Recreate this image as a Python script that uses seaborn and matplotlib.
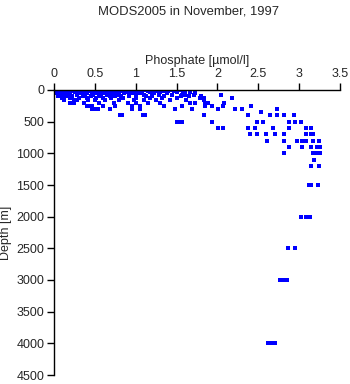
import matplotlib
matplotlib.use("Agg")
import matplotlib.pyplot as plt
import seaborn as sns
import pandas as pd

title = "MODS2005 in November, 1997"
x_label = "Phosphate [\u00b5mol/l]"
y_label = "Depth [m]"
x_ticks = [0, 0.5, 1, 1.5, 2, 2.5, 3, 3.5]
x_tick_labels = ["0", "0.5", "1", "1.5", "2", "2.5", "3", "3.5"]
y_ticks = [0, 500, 1000, 1500, 2000, 2500, 3000, 3500, 4000, 4500]

# phosphate values (umol/l) at each standard depth level (m)
p_0 = [0.02, 0.05, 0.08, 0.12, 0.15, 0.20, 0.25, 0.33, 0.36, 0.40, 0.45, 0.50, 0.53,
       0.58, 0.62, 0.68, 0.72, 0.78, 0.82, 0.85, 0.97, 1.00, 1.12, 1.20, 1.30, 1.45, 1.52, 1.55]
p_10 = [0.03, 0.07, 0.10, 0.18, 0.30, 0.35, 0.42, 0.48, 0.55, 0.60, 0.65, 0.70, 0.75,
        0.80, 0.88, 0.95, 1.05, 1.15, 1.35, 1.47]
p_20 = [0.02, 0.06, 0.14, 0.22, 0.34, 0.38, 0.44, 0.50, 0.56, 0.63, 0.70, 0.76, 0.84,
        0.98, 1.08, 1.25, 1.40, 1.60]
p_30 = [0.04, 0.09, 0.16, 0.26, 0.36, 0.46, 0.52, 0.60, 0.66, 0.74, 0.80, 0.90, 1.02,
        1.18, 1.30, 1.50, 1.66]
p_50 = [0.03, 0.08, 0.12, 0.20, 0.30, 0.40, 0.50, 0.55, 0.62, 0.70, 0.78, 0.86, 0.95,
        1.05, 1.22, 1.38, 1.58, 1.72]
p_75 = [0.06, 0.10, 0.18, 0.28, 0.38, 0.48, 0.58, 0.65, 0.72, 0.80, 0.92, 1.00, 1.10,
        1.28, 1.45, 1.57, 1.60, 1.71, 2.04]
p_100 = [0.05, 0.15, 0.22, 0.35, 0.45, 0.55, 0.68, 0.75, 0.82, 0.92, 1.12, 1.20, 1.35,
         1.55, 1.65, 1.80]
p_125 = [0.10, 0.20, 0.30, 0.40, 0.52, 0.60, 0.70, 0.85, 1.00, 1.18, 1.32, 1.50, 1.79,
         1.84, 2.18]
p_150 = [0.12, 0.25, 0.28, 0.42, 0.50, 0.62, 0.80, 0.98, 1.10, 1.25, 1.42, 1.62, 1.84]
p_200 = [0.20, 0.24, 0.37, 0.55, 0.73, 0.90, 1.00, 1.15, 1.30, 1.67, 1.72, 1.85, 1.89, 2.08]
p_250 = [0.40, 0.43, 0.46, 0.60, 0.75, 0.95, 1.05, 1.35, 1.57, 1.85, 1.93, 2.07, 2.41]
p_300 = [0.46, 0.50, 0.54, 0.69, 0.95, 1.05, 1.48, 1.69, 2.01, 2.22, 2.30, 2.73]
p_350 = [2.53]
p_400 = [0.81, 0.83, 1.09, 1.11, 1.83, 2.37, 2.64, 2.73, 2.81, 2.94]
p_500 = [1.50, 1.53, 1.57, 1.93, 2.49, 2.56, 2.87, 2.95, 3.02]
p_600 = [2.01, 2.07, 2.37, 2.46, 2.68, 2.88, 3.09, 3.14]
p_700 = [2.40, 2.49, 2.60, 2.71, 2.81, 3.09, 3.15, 3.17]
p_800 = [2.61, 2.81, 2.97, 3.03, 3.09, 3.17, 3.24]
p_900 = [2.87, 3.04, 3.15, 3.22, 3.26]
p_1000 = [2.81, 3.17, 3.22, 3.26]
p_1100 = [3.18]
p_1200 = [3.15, 3.24]
p_1500 = [3.12, 3.15, 3.23]
p_2000 = [3.02, 3.09, 3.13]
p_2500 = [2.86, 2.95]
p_3000 = [2.77, 2.80, 2.85]
p_4000 = [2.62, 2.66, 2.70]

levels = [0, 10, 20, 30, 50, 75, 100, 125, 150, 200, 250, 300, 350, 400, 500, 600,
          700, 800, 900, 1000, 1100, 1200, 1500, 2000, 2500, 3000, 4000]
values = [p_0, p_10, p_20, p_30, p_50, p_75, p_100, p_125, p_150, p_200, p_250, p_300,
          p_350, p_400, p_500, p_600, p_700, p_800, p_900, p_1000, p_1100, p_1200,
          p_1500, p_2000, p_2500, p_3000, p_4000]

rows = []
for d, vals in zip(levels, values):
    for v in vals:
        rows.append({"phosphate": v, "depth": d})
df = pd.DataFrame(rows)

sns.set_style("white")
plt.rcParams["font.family"] = ["Liberation Sans", "DejaVu Sans"]

fig = plt.figure(figsize=(3.5, 3.84), dpi=100)
ax = fig.add_axes([54 / 350, 1 - 375 / 384, (340 - 54) / 350, (375 - 90) / 384])

sns.scatterplot(data=df, x="phosphate", y="depth", ax=ax, marker="s", s=6,
                color="#0000ff", linewidth=0, legend=False)

ax.set_xlim(0, 3.5)
ax.set_ylim(4500, 0)
ax.xaxis.set_ticks_position("top")
ax.xaxis.set_label_position("top")
ax.set_xticks(x_ticks)
ax.set_xticklabels(x_tick_labels)
ax.set_yticks(y_ticks)
ax.set_yticklabels([str(t) for t in y_ticks])
ax.tick_params(axis="both", direction="out", length=5, width=1, color="black",
               labelsize=9, pad=2)
ax.tick_params(axis="x", top=True, bottom=False)
ax.tick_params(axis="y", left=True, right=False)
for side in ["right", "bottom"]:
    ax.spines[side].set_visible(False)
for side in ["left", "top"]:
    ax.spines[side].set_color("black")
    ax.spines[side].set_linewidth(1)

ax.set_xlabel(x_label, fontsize=9, labelpad=3)
ax.set_ylabel(y_label, fontsize=9, labelpad=3)
fig.text(189 / 350, 1 - 12 / 384, title, ha="center", va="center", fontsize=9.4)

fig.savefig("out.png", dpi=100)
